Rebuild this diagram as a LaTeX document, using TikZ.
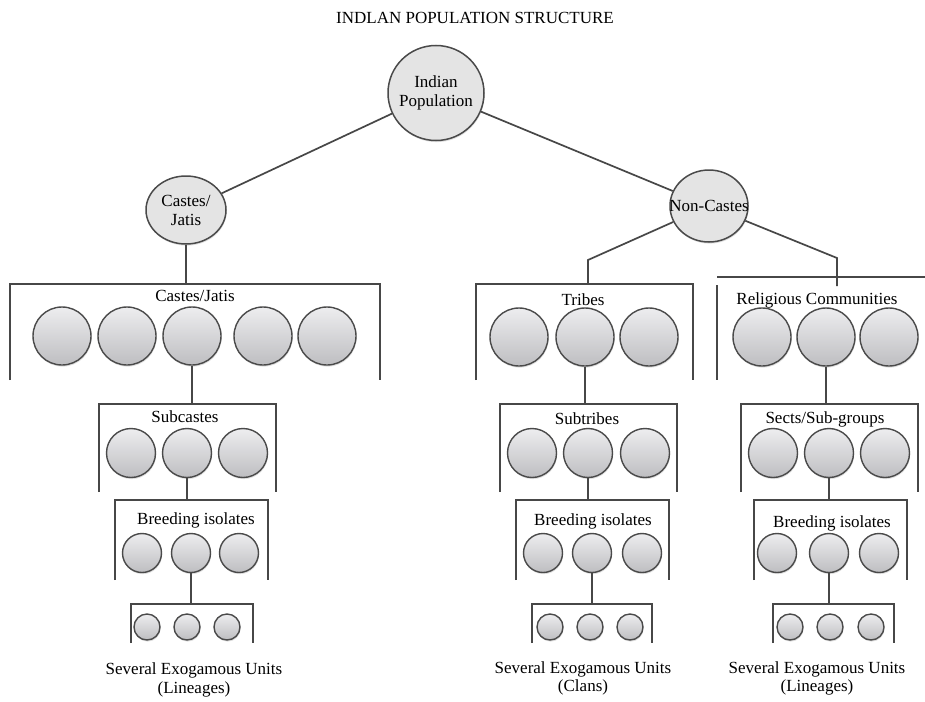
\documentclass[tikz,border=0pt]{standalone}
\usepackage{fontspec}
\setmainfont{Liberation Serif}
\usetikzlibrary{shapes.geometric,shadows}
\definecolor{lc}{HTML}{474747}
\definecolor{cb}{HTML}{4A4A4A}
\definecolor{ctop}{HTML}{EDEDEF}
\definecolor{cbot}{HTML}{BEBEC1}
\definecolor{mf}{HTML}{E4E4E4}
\tikzset{
  ln/.style={draw=lc, line width=1.7pt},
  brk/.style={draw=lc, line width=1.8pt},
  brkb/.style={draw=lc, line width=2.6pt},
  bub/.style={circle, draw=cb, line width=1.4pt, top color=ctop, bottom color=cbot, inner sep=0pt,
    drop shadow={opacity=0.25, shadow xshift=0.6pt, shadow yshift=-1.6pt}},
  bA/.style={bub, minimum size=58pt},
  bB/.style={bub, minimum size=49pt},
  bC/.style={bub, minimum size=39pt},
  bD/.style={bub, minimum size=26pt},
  mainell/.style={ellipse, draw=cb, line width=1.5pt, fill=mf, inner sep=0pt,
    drop shadow={opacity=0.25, shadow xshift=0.6pt, shadow yshift=-1.6pt}},
  lab/.style={font=\fontsize{17}{19}\selectfont, inner sep=0pt, align=center},
}
\begin{document}
\begin{tikzpicture}[x=1pt,y=-1pt]
\useasboundingbox (0,0) rectangle (925,701);
\fill[white] (0,0) rectangle (925,701);

% title
\node[lab, anchor=base] (title) at (475,24) {INDLAN POPULATION STRUCTURE};

% main ellipses
\node[mainell, minimum width=96pt, minimum height=95pt,
  label={[lab]center:Indian\\Population}] (ip) at (436,93) {};
\node[mainell, minimum width=80pt, minimum height=68pt,
  label={[lab]center:Castes/\\Jatis}] (cj) at (186,210) {};
\node[mainell, minimum width=78pt, minimum height=72pt,
  label={[lab]center:Non-Castes}] (nc) at (709,206) {};

\draw[ln] (ip) -- (cj);
\draw[ln] (ip) -- (nc);

% ---------------- left column: castes ----------------
\coordinate (B1t) at (186,284);
\draw[ln] (cj) -- (B1t);
\draw[brk] (10,380) -- (10,284) -- (380,284) -- (380,380);
\node[lab, anchor=base] (B1l) at (195,301) {Castes/Jatis};
\foreach \x/\n in {62/1,127/2,192/3,263/4,327/5} \node[bA] (L1\n) at (\x,336) {};

\coordinate (B2t) at (192,404);
\draw[ln] (L13) -- (B2t);
\draw[brk] (99,492) -- (99,404) -- (276,404) -- (276,492);
\node[lab, anchor=base] (B2l) at (185,422) {Subcastes};
\foreach \x/\n in {131/1,187/2,243/3} \node[bB] (L2\n) at (\x,453) {};

\coordinate (B3t) at (187,500);
\draw[ln] (L22) -- (B3t);
\draw[brk] (115,580) -- (115,500) -- (268,500) -- (268,580);
\node[lab, anchor=base] (B3l) at (196,524) {Breeding isolates};
\foreach \x/\n in {142/1,191/2,239/3} \node[bC] (L3\n) at (\x,553) {};

\coordinate (B4t) at (191,604);
\draw[ln] (L32) -- (B4t);
\draw[brkb] (131,643) -- (131,604) -- (253,604) -- (253,643);
\foreach \x/\n in {147/1,187/2,227/3} \node[bD] (L4\n) at (\x,627) {};
\node[lab, anchor=base] (Lx1) at (194,674) {Several Exogamous Units};
\node[lab, anchor=base] (Lx2) at (194,693) {(Lineages)};

% ---------------- middle column: tribes ----------------
\coordinate (tk) at (588,260);
\coordinate (T1t) at (588,284);
\draw[ln] (nc) -- (tk) -- (T1t);
\draw[brk] (476,380) -- (476,284) -- (693,284) -- (693,380);
\node[lab, anchor=base] (T1l) at (583,305) {Tribes};
\foreach \x/\n in {519/1,585/2,649/3} \node[bA] (M1\n) at (\x,337) {};

\coordinate (T2t) at (585,404);
\draw[ln] (M12) -- (T2t);
\draw[brk] (500,492) -- (500,404) -- (677,404) -- (677,492);
\node[lab, anchor=base] (T2l) at (587,424) {Subtribes};
\foreach \x/\n in {532/1,588/2,645/3} \node[bB] (M2\n) at (\x,453) {};

\coordinate (T3t) at (588,500);
\draw[ln] (M22) -- (T3t);
\draw[brk] (516,580) -- (516,500) -- (669,500) -- (669,580);
\node[lab, anchor=base] (T3l) at (593,525) {Breeding isolates};
\foreach \x/\n in {543/1,592/2,642/3} \node[bC] (M3\n) at (\x,553) {};

\coordinate (T4t) at (592,604);
\draw[ln] (M32) -- (T4t);
\draw[brkb] (532,643) -- (532,604) -- (652,604) -- (652,643);
\foreach \x/\n in {550/1,590/2,630/3} \node[bD] (M4\n) at (\x,627) {};
\node[lab, anchor=base] (Mx1) at (583,673) {Several Exogamous Units};
\node[lab, anchor=base] (Mx2) at (583,691) {(Clans)};

% ---------------- right column: religious ----------------
\coordinate (rk) at (837,258);
\coordinate (R1t) at (837,286);
\draw[ln] (nc) -- (rk) -- (R1t);
\draw[brk] (717,277) -- (925,277);
\draw[brk] (717,285) -- (717,380);
\node[lab, anchor=base] (R1l) at (817,304) {Religious Communities};
\foreach \x/\n in {762/1,826/2,889/3} \node[bA] (R1\n) at (\x,337) {};

\coordinate (R2t) at (826,404);
\draw[ln] (R12) -- (R2t);
\draw[brk] (741,492) -- (741,404) -- (918,404) -- (918,492);
\node[lab, anchor=base] (R2l) at (825,423) {Sects/Sub-groups};
\foreach \x/\n in {773/1,829/2,885/3} \node[bB] (R2\n) at (\x,453) {};

\coordinate (R3t) at (829,500);
\draw[ln] (R22) -- (R3t);
\draw[brk] (754,580) -- (754,500) -- (907,500) -- (907,580);
\node[lab, anchor=base] (R3l) at (832,527) {Breeding isolates};
\foreach \x/\n in {777/1,829/2,879/3} \node[bC] (R3\n) at (\x,553) {};

\coordinate (R4t) at (829,604);
\draw[ln] (R32) -- (R4t);
\draw[brkb] (773,643) -- (773,604) -- (894,604) -- (894,643);
\foreach \x/\n in {790/1,830/2,871/3} \node[bD] (R4\n) at (\x,627) {};
\node[lab, anchor=base] (Rx1) at (817,673) {Several Exogamous Units};
\node[lab, anchor=base] (Rx2) at (817,691) {(Lineages)};
\end{tikzpicture}
\end{document}
